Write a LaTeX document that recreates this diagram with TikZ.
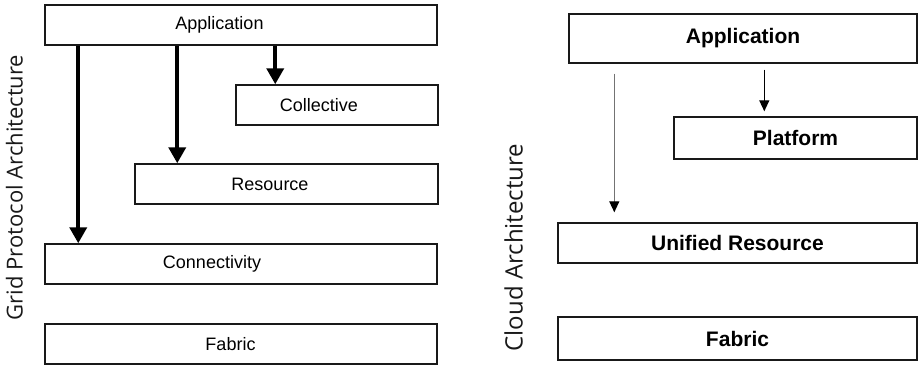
\documentclass[tikz,border=0pt]{standalone}
\usepackage{fontspec}
\setmainfont{Liberation Sans}
\newfontfamily\sidefont{Open Sans}
\usepackage{xcolor}
\usepackage{tikz}
\usetikzlibrary{calc, arrows, arrows.meta}
\definecolor{boxline}{gray}{0.1}
\definecolor{thinarrow}{gray}{0.45}
\tikzstyle{glayer}   = [rectangle, minimum height=40pt, inner sep=0pt, text centered, draw=boxline, line width=1.5pt, font=\fontsize{18}{21}\selectfont]
\tikzstyle{clayer}   = [rectangle, inner sep=0pt, text centered, draw=boxline, line width=1.4pt, font=\fontsize{21}{24}\selectfont\bfseries]
\tikzstyle{sidelabel}= [rotate=90, inner sep=0pt, font=\sidefont\fontsize{22}{26}\selectfont, text=black!90]
\tikzstyle{arrow}    = [line width=3.8pt, -{Triangle[length=16pt,width=17pt]}]
\tikzstyle{thinarrow}= [line width=1.3pt, -{Triangle[length=11pt,width=10pt]}]

\begin{document}
\begin{tikzpicture}[x=1pt, y=-1pt]
    \useasboundingbox (0,0) rectangle (919,367);

    % grid protocol stack
    \node (gside) [sidelabel] at (14.5,187.5) {Grid Protocol Architecture};
    \node (gapp)  [glayer, minimum width=392pt] at (241,25)    {\hspace*{-43pt}Application};
    \node (gcoll) [glayer, minimum width=202pt] at (337,105)   {\hspace*{-36pt}Collective};
    \node (gres)  [glayer, minimum width=303pt] at (286.5,184) {\hspace*{-33pt}Resource};
    \node (gconn) [glayer, minimum width=392pt] at (241,264)   {\hspace*{-58pt}Connectivity};
    \node (gfab)  [glayer, minimum width=392pt] at (241,344)   {\hspace*{-21pt}Fabric};

    % cloud stack
    \node (cside) [sidelabel, font=\sidefont\fontsize{24}{28}\selectfont] at (513.5,247.5) {Cloud Architecture};
    \node (capp)  [clayer, minimum width=348pt, minimum height=49pt] at (743,38.5)   {Application};
    \node (cplat) [clayer, minimum width=243pt, minimum height=42pt] at (795.5,138)  {Platform};
    \node (cures) [clayer, minimum width=359pt, minimum height=40pt] at (737.5,243)  {Unified Resource};
    \node (cfab)  [clayer, minimum width=359pt, minimum height=43pt] at (737.5,338.5) {Fabric};

    % arrow ends
    \coordinate (gtip1) at ([xshift=34pt]gconn.north west);
    \coordinate (gtip2) at ([xshift=43pt]gres.north west);
    \coordinate (gtip3) at ([xshift=40pt]gcoll.north west);
    \coordinate (ctip1) at ([xshift=57pt,yshift=10pt]cures.north west);
    \coordinate (ctop1) at ([yshift=-10pt]capp.south);
    \coordinate (ctip2) at ([xshift=91pt,yshift=5pt]cplat.north west);
    \coordinate (ctop2) at ([yshift=-6pt]capp.south);

    % arrows
    \draw [arrow] (gapp.south -| gtip1) -- (gtip1);
    \draw [arrow] (gapp.south -| gtip2) -- (gtip2);
    \draw [arrow] (gapp.south -| gtip3) -- (gtip3);
    \draw [thinarrow, draw=thinarrow, -{Triangle[length=11pt,width=10pt,color=black]}] (ctop1 -| ctip1) -- (ctip1);
    \draw [thinarrow] (ctop2 -| ctip2) -- (ctip2);
\end{tikzpicture}
\end{document}
